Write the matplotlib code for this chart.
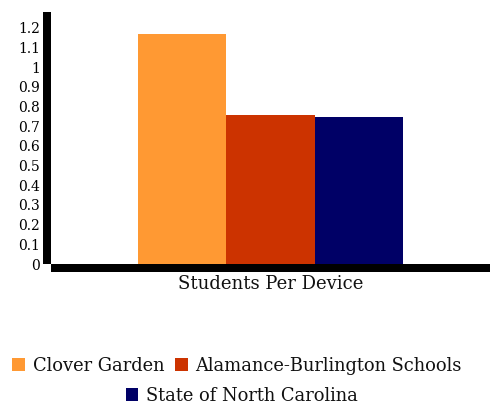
import matplotlib
matplotlib.use("Agg")
import matplotlib.pyplot as plt
from matplotlib.patches import Patch

categories = ["Students Per Device"]
series = ["Clover Garden", "Alamance-Burlington Schools", "State of North Carolina"]
values = [1.168, 0.757, 0.747]
colors = ["#ff9933", "#cc3300", "#000066"]
yticks = [0, 0.1, 0.2, 0.3, 0.4, 0.5, 0.6, 0.7, 0.8, 0.9, 1, 1.1, 1.2]
ytick_labels = ["0", "0.1", "0.2", "0.3", "0.4", "0.5", "0.6", "0.7", "0.8", "0.9", "1", "1.1", "1.2"]

plt.rcParams['font.family'] = ['DejaVu Serif']

W, H = 492, 404
fig = plt.figure(figsize=(W / 100, H / 100), dpi=100)
ax = fig.add_axes([51 / W, (H - 264) / H, 439 / W, 252 / H])

for i, (s, v, c) in enumerate(zip(series, values, colors)):
    ax.bar(i, v, width=1.0, color=c, label=s, linewidth=0)

ax.set_xlim(-1.49, 3.49)
ax.set_ylim(0, 1.281)
ax.set_xticks([])
ax.set_yticks(yticks)
ax.set_yticklabels(ytick_labels, fontsize=12, color="#111111")
ax.tick_params(axis='y', length=0, pad=5)

for s in ['top', 'right']:
    ax.spines[s].set_visible(False)
lw = 8 * 72 / 100
for s in ['left', 'bottom']:
    ax.spines[s].set_linewidth(lw)
    ax.spines[s].set_position(('outward', 4 * 72 / 100))
    ax.spines[s].set_capstyle('butt')

ax.set_xlabel(categories[0], fontsize=13, color="#111111", labelpad=5)

handles = [Patch(facecolor=c, edgecolor='none') for c in colors]
common = dict(frameon=False, fontsize=12.9, handlelength=0.7, handleheight=0.7,
              handletextpad=0.42, borderpad=0, borderaxespad=0, columnspacing=0.62,
              labelcolor="#111111")
leg1 = fig.legend(handles[:2], series[:2], loc='center', ncol=2,
                  bbox_to_anchor=(237 / W, 1 - 366 / H), **common)
leg2 = fig.legend(handles[2:], series[2:], loc='center', ncol=1,
                  bbox_to_anchor=(241.5 / W, 1 - 396 / H), **common)

fig.savefig("out.png", dpi=100)
